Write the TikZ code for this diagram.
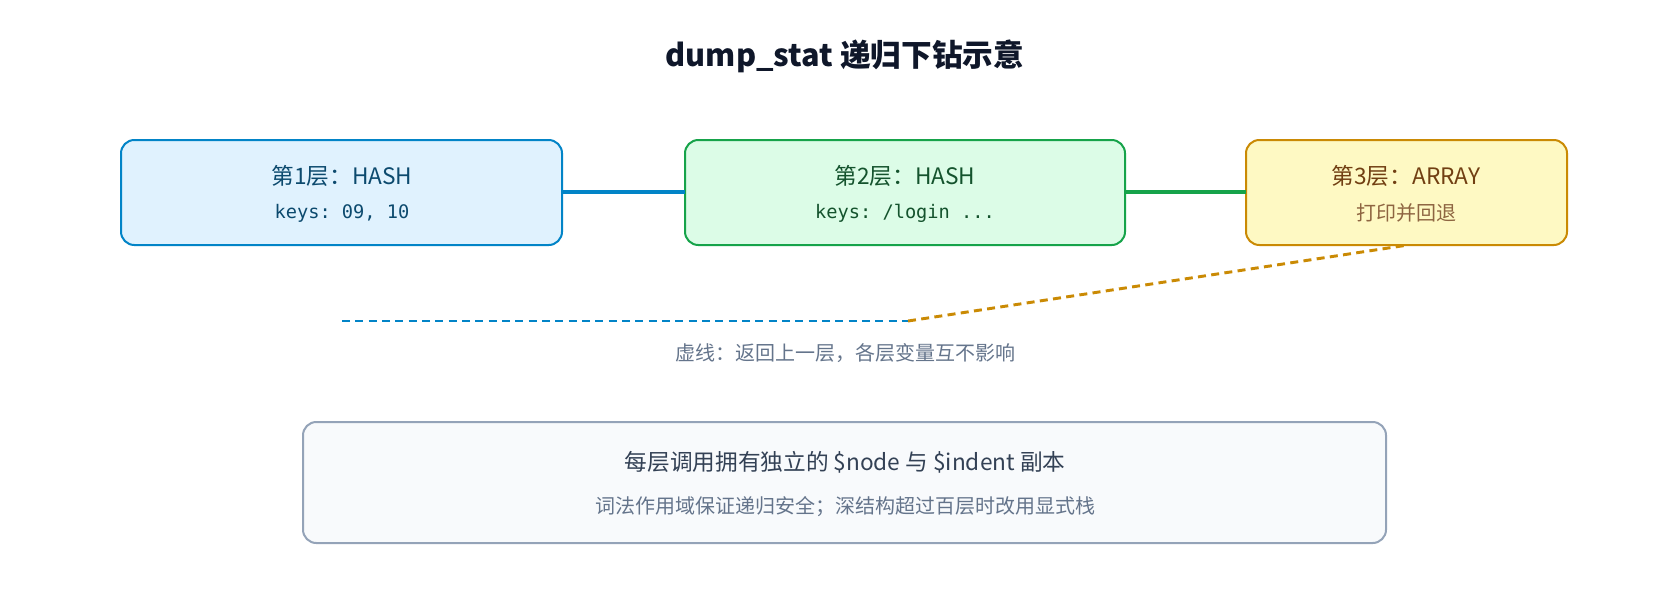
\documentclass[tikz,border=0pt]{standalone}
\usepackage{fontspec}
\setmainfont{Noto Sans CJK SC}
\setmonofont{DejaVu Sans Mono}
\definecolor{bluedk}{HTML}{0284C7}
\definecolor{bluelt}{HTML}{E0F2FE}
\definecolor{bluetx}{HTML}{0C4A6E}
\definecolor{greendk}{HTML}{16A34A}
\definecolor{greenlt}{HTML}{DCFCE7}
\definecolor{greentx}{HTML}{14532D}
\definecolor{ambdk}{HTML}{CA8A04}
\definecolor{amblt}{HTML}{FEF9C3}
\definecolor{ambtx}{HTML}{713F12}
\definecolor{slatedk}{HTML}{94A3B8}
\definecolor{slatelt}{HTML}{F8FAFC}
\definecolor{slatetx}{HTML}{334155}
\definecolor{slategr}{HTML}{64748B}
\definecolor{titletx}{HTML}{0F172A}
\tikzset{
  layer/.style={draw, line width=1.5pt, rounded corners=10pt},
  big/.style={font=\fontsize{17}{20}\selectfont},
  small/.style={font=\fontsize{15}{18}\selectfont},
}
\begin{document}
\begin{tikzpicture}[x=0.75pt, y=-0.75pt]
    \useasboundingbox (0,0) rectangle (1680,600);
    \node (title) at (845, 56) [font=\fontsize{23}{27}\selectfont\bfseries, text=titletx] {dump\_stat 递归下钻示意};

    \draw [layer, draw=bluedk, fill=bluelt] (121,140) rectangle (562,245);
    \node (l1a) at (342,176) [big, text=bluetx] {第1层：HASH};
    \node (l1b) at (342,213) [small, text=bluetx, font=\ttfamily\fontsize{14}{17}\selectfont] {keys: 09, 10};

    \draw [layer, draw=greendk, fill=greenlt] (685,140) rectangle (1125,245);
    \node (l2a) at (905,176) [big, text=greentx] {第2层：HASH};
    \node (l2b) at (905,213) [small, text=greentx, font=\ttfamily\fontsize{14}{17}\selectfont] {keys: /login ...};

    \draw [layer, draw=ambdk, fill=amblt] (1246,140) rectangle (1567,245);
    \node (l3a) at (1406,176) [big, text=ambtx] {第3层：ARRAY};
    \node (l3b) at (1406,213) [small, text=ambtx!80] {打印并回退};

    \draw [bluedk, line width=2.5pt] (562,192) -- (685,192);
    \draw [greendk, line width=2.5pt] (1125,192) -- (1246,192);

    \coordinate (back) at (342,321);
    \coordinate (bend) at (908,321);
    \coordinate (top3) at (1408,245);
    \draw [bluedk, line width=2.2pt, dash pattern=on 6pt off 4pt] (back) -- (bend);
    \draw [ambdk, line width=2.2pt, dash pattern=on 6pt off 4pt] (bend) -- (top3);
    \node (note) at (845,353) [small, text=slategr] {虚线：返回上一层，各层变量互不影响};

    \draw [layer, draw=slatedk, fill=slatelt] (303,422) rectangle (1386,543);
    \node (m1) at (845,462) [big, text=slatetx] {每层调用拥有独立的 \$node 与 \$indent 副本};
    \node (m2) at (845,507) [small, text=slategr] {词法作用域保证递归安全；深结构超过百层时改用显式栈};
  \end{tikzpicture}
\end{document}
